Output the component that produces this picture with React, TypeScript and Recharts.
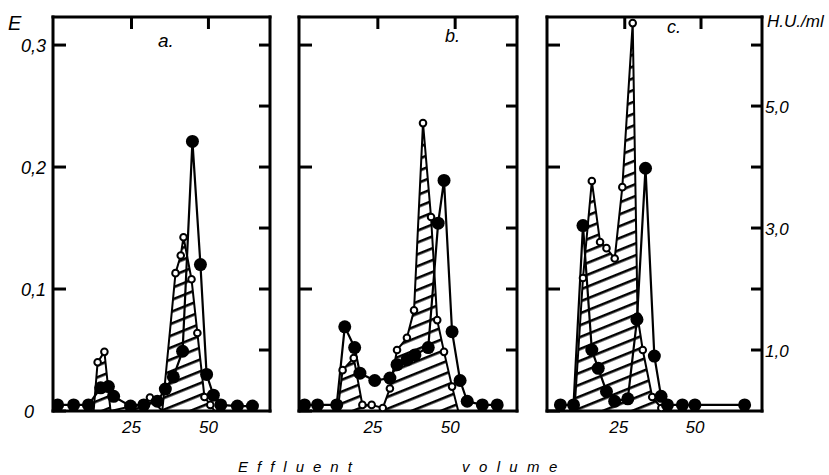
import { ComposedChart, Line, Area, XAxis, YAxis } from 'recharts'

const X_DOMAIN: [number, number] = [-0.5, 70]
const X_TICKS = [25, 50]
const E_DOMAIN: [number, number] = [0, 0.323]
const E_TICKS = [0, 0.1, 0.2, 0.3]
const HU_DOMAIN: [number, number] = [0, 6.46]
const HU_TICKS = [1, 2, 3, 4, 5, 6]
const HU_LABELED = [1, 3, 5]

// filled circles = E, open circles (hatched area) = H.U./ml
const aVolE = [1, 6.2, 11, 15, 17.5, 19.2, 24.7, 29, 33.4, 36, 38.6, 41.6, 44.8, 47.4, 49.4, 51.6, 54, 59.4, 64.3]
const aE = [0.005, 0.005, 0.005, 0.019, 0.02, 0.012, 0.004, 0.005, 0.008, 0.018, 0.028, 0.049, 0.221, 0.12, 0.03, 0.013, 0.005, 0.004, 0.004]
const aVolHU = [12.7, 14, 16.2, 18.2, 28.6, 31, 35, 39.3, 41, 41.9, 44.5, 46.4, 48.7, 50.6, 52]
const aHU = [0, 0.8, 0.97, 0, 0.12, 0.22, 0, 2.26, 2.55, 2.85, 2.16, 1.28, 0.23, 0.1, 0]

const bVolE = [1.3, 5.5, 11.7, 14.3, 17.5, 19.2, 24, 28.9, 31.2, 34.4, 37, 41.3, 44.5, 46.4, 49, 51.6, 53.9, 58.8, 63.6]
const bE = [0.005, 0.005, 0.005, 0.069, 0.052, 0.031, 0.025, 0.027, 0.038, 0.042, 0.046, 0.052, 0.154, 0.189, 0.065, 0.025, 0.008, 0.005, 0.005]
const bVolHU = [12, 13.6, 17.2, 20, 23, 26.6, 28.9, 31.2, 34.4, 36.7, 39.6, 42.2, 44.2, 46.4, 49, 51]
const bHU = [0, 0.67, 0.87, 0.1, 0.1, 0.05, 0.37, 1.0, 1.2, 1.65, 4.72, 3.18, 1.49, 0.97, 0.4, 0]

const cVolE = [3.9, 8.2, 11.3, 14.2, 16.3, 19, 21.7, 26, 29, 31.8, 34.7, 36.9, 39, 43.9, 48, 64.3]
const cE = [0.005, 0.005, 0.152, 0.05, 0.035, 0.016, 0.008, 0.01, 0.075, 0.199, 0.045, 0.012, 0.005, 0.005, 0.005, 0.005]
const cVolHU = [8.5, 11.3, 14.2, 16.9, 19, 21.7, 24.2, 27.6, 29.2, 30.9, 34, 37, 38]
const cHU = [0, 2.18, 3.77, 2.77, 2.67, 2.5, 3.67, 6.36, 1.55, 1.0, 0.23, 0.05, 0]

const FONT = '"Liberation Sans", Arial, sans-serif'
const CHART_H = 445
const PLOT_TOP = 17
const PLOT_BOTTOM = 411
const AXIS = { stroke: '#000', strokeWidth: 3, strokeLinecap: 'square' as const }
const TICK = { stroke: '#000', strokeWidth: 3 }

type Row = { v: number; e?: number; h?: number }

function mergeRows(volE: number[], e: number[], volH: number[], h: number[]): Row[] {
  const map = new Map<number, Row>()
  volE.forEach((v, i) => {
    const r = map.get(v) ?? { v }
    r.e = e[i]
    map.set(v, r)
  })
  volH.forEach((v, i) => {
    const r = map.get(v) ?? { v }
    r.h = h[i]
    map.set(v, r)
  })
  return [...map.values()].sort((a, b) => a.v - b.v)
}

const comma = (v: number, digits: number) => v.toFixed(digits).replace('.', ',')

const noLabel = () => <g />

const filledDot = (props: any) => {
  const { cx, cy, index, payload } = props
  if (cx == null || cy == null || payload?.e == null) return <g key={`f${index}`} />
  return <circle key={`f${index}`} cx={cx} cy={cy} r={6.5} fill="#000" />
}

const openDot = (props: any) => {
  const { cx, cy, index, payload } = props
  if (cx == null || cy == null || payload?.h == null || payload.h <= 0) return <g key={`o${index}`} />
  return <circle key={`o${index}`} cx={cx} cy={cy} r={3.3} fill="#fff" stroke="#000" strokeWidth={2} />
}

interface PanelProps {
  id: string
  left: number
  width: number
  plotLeft: number
  plotRight: number
  rows: Row[]
  labelLeft?: boolean
  labelRight?: boolean
  xShift: number
}

function Panel({ id, left, width, plotLeft, plotRight, rows, labelLeft, labelRight, xShift }: PanelProps) {
  const leftSpace = plotLeft - left
  const rightSpace = left + width - plotRight
  const hatch = `hatch-${id}`

  const xTick = (props: any) => (
    <text
      x={props.x + xShift}
      y={433}
      textAnchor="middle"
      fontFamily={FONT}
      fontStyle="italic"
      fontSize={17}
      fill="#000"
    >
      {props.payload.value}
    </text>
  )

  const eTick = (props: any) => {
    const v = props.payload.value
    return (
      <text
        x={v === 0 ? 34 : 46}
        y={props.y + 6.5}
        textAnchor="end"
        fontFamily={FONT}
        fontStyle="italic"
        fontSize={18}
        fill="#000"
      >
        {v === 0 ? '0' : comma(v, 1)}
      </text>
    )
  }

  const huTick = (props: any) => {
    const v = props.payload.value
    if (!HU_LABELED.includes(v)) return <g />
    return (
      <text
        x={plotRight - left + 3}
        y={props.y + 6.5}
        textAnchor="start"
        fontFamily={FONT}
        fontStyle="italic"
        fontSize={17}
        fill="#000"
      >
        {comma(v, 1)}
      </text>
    )
  }

  return (
    <div style={{ position: 'absolute', left, top: 0 }}>
      <ComposedChart
        width={width}
        height={CHART_H}
        data={rows}
        margin={{ top: PLOT_TOP, left: leftSpace, right: rightSpace, bottom: 0 }}
      >
        <defs>
          <pattern
            id={hatch}
            width={12}
            height={11}
            patternUnits="userSpaceOnUse"
            patternTransform="rotate(-22)"
          >
            <rect x={0} y={0} width={12} height={2.6} fill="#000" />
          </pattern>
        </defs>
        <XAxis
          xAxisId="x"
          dataKey="v"
          type="number"
          domain={X_DOMAIN}
          allowDataOverflow
          ticks={X_TICKS}
          interval={0}
          height={CHART_H - PLOT_BOTTOM}
          tickLine={false}
          axisLine={AXIS}
          tick={xTick}
        />
        <XAxis
          xAxisId="top"
          dataKey="v"
          type="number"
          orientation="top"
          mirror
          domain={X_DOMAIN}
          allowDataOverflow
          ticks={X_TICKS}
          interval={0}
          tick={noLabel}
          tickSize={12}
          tickLine={TICK}
          axisLine={AXIS}
        />
        <YAxis
          yAxisId="E"
          type="number"
          domain={E_DOMAIN}
          allowDataOverflow
          ticks={E_TICKS}
          interval={0}
          mirror
          tickSize={13}
          tickLine={TICK}
          axisLine={AXIS}
          tick={labelLeft ? eTick : noLabel}
        />
        <YAxis
          yAxisId="H"
          orientation="right"
          type="number"
          domain={HU_DOMAIN}
          allowDataOverflow
          ticks={HU_TICKS}
          interval={0}
          mirror
          tickSize={11}
          tickLine={TICK}
          axisLine={AXIS}
          tick={labelRight ? huTick : noLabel}
        />
        <Area
          xAxisId="top"
          yAxisId="H"
          dataKey="h"
          type="linear"
          connectNulls
          stroke="#000"
          strokeWidth={2}
          fill={`url(#${hatch})`}
          fillOpacity={1}
          dot={openDot}
          activeDot={false}
          isAnimationActive={false}
        />
        <Line
          xAxisId="x"
          yAxisId="E"
          dataKey="e"
          type="linear"
          connectNulls
          stroke="#000"
          strokeWidth={2.2}
          dot={filledDot}
          activeDot={false}
          isAnimationActive={false}
        />
      </ComposedChart>
    </div>
  )
}

export default function App() {
  const rowsA = mergeRows(aVolE, aE, aVolHU, aHU)
  const rowsB = mergeRows(bVolE, bE, bVolHU, bHU)
  const rowsC = mergeRows(cVolE, cE, cVolHU, cHU)

  const text = { fontFamily: FONT, fontStyle: 'italic' as const, fill: '#000' }

  return (
    <div style={{ position: 'absolute', left: 0, top: 0, width: 829, height: 475, background: '#fff' }}>
      <Panel id="a" left={0} width={290} plotLeft={53} plotRight={270} rows={rowsA} labelLeft xShift={0} />
      <Panel id="b" left={280} width={250} plotLeft={299} plotRight={517} rows={rowsB} xShift={-5} />
      <Panel id="c" left={530} width={299} plotLeft={547} plotRight={762} rows={rowsC} labelRight xShift={-6} />
      <svg
        width={829}
        height={475}
        style={{ position: 'absolute', left: 0, top: 0, pointerEvents: 'none' }}
      >
        <text x={8} y={30} fontSize={20} {...text}>E</text>
        <text x={158} y={47} fontSize={19} {...text}>a.</text>
        <text x={445} y={42} fontSize={18} {...text}>b.</text>
        <text x={667} y={33} fontSize={18} {...text}>c.</text>
        <text x={767} y={27} fontSize={17} {...text}>H.U./ml</text>
        <text x={238} y={472} fontSize={15} letterSpacing={9} {...text}>Effluent</text>
        <text x={462} y={472} fontSize={15} letterSpacing={9.4} {...text}>volume</text>
      </svg>
    </div>
  )
}
